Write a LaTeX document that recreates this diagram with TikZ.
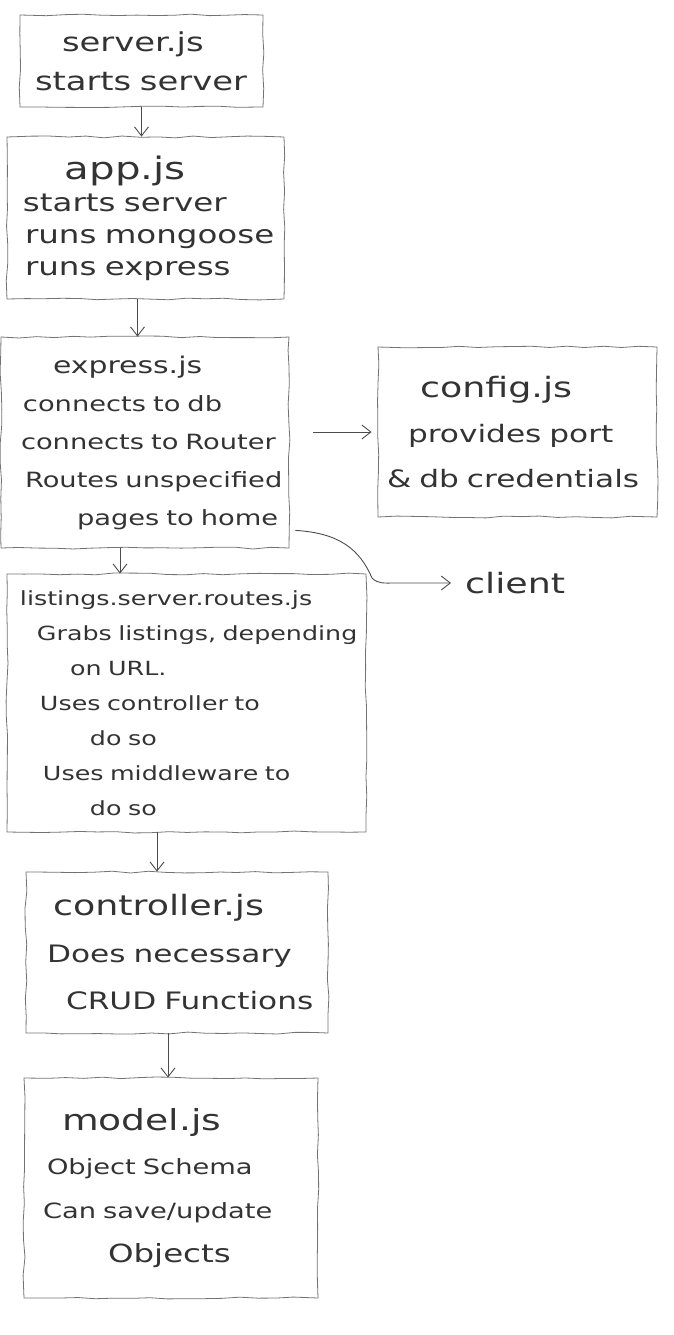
\documentclass[tikz,border=0pt]{standalone}
\usepackage{fontspec}
\setmainfont[FakeStretch=1.3]{DejaVu Sans}
\usetikzlibrary{arrows.meta, decorations.pathmorphing}

\begin{document}
\begin{tikzpicture}[x=1pt, y=-1pt,
    sketch/.style={draw=black!55, line width=0.8pt, text=black!80, inner sep=0pt, align=left,
      decorate, decoration={random steps, segment length=18pt, amplitude=1pt}},
    link/.style={->, >={Straight Barb[length=9pt, width=14pt]}, draw=black!70, line width=0.9pt}]
    \pgfmathsetseed{11}
    \useasboundingbox (0,0) rectangle (673,1335);

    % boxes, top to bottom
    \node[sketch, text width=243pt, minimum height=92pt, font=\fontsize{26}{39}\selectfont] (srv) at (141.5,61)
        {\hspace*{42pt}server.js\\\hspace*{15pt}starts server};
    \node[sketch, text width=277pt, minimum height=162pt, font=\fontsize{25}{32}\selectfont] (app) at (145.5,218)
        {\hspace*{58pt}{\fontsize{31}{32}\selectfont app.js}\\\hspace*{16pt}starts server\\\hspace*{18pt}runs mongoose\\\hspace*{18pt}runs express};
    \node[sketch, text width=288pt, minimum height=211pt, font=\fontsize{21}{38}\selectfont] (exp) at (145,442.5)
        {\hspace*{52pt}{\fontsize{23}{38}\selectfont express.js}\\\hspace*{22pt}connects to db\\\hspace*{20pt}connects to Router\\\hspace*{24pt}Routes unspecified\\\hspace*{76pt}pages to home};
    \node[sketch, text width=279pt, minimum height=170pt, font=\fontsize{24}{45}\selectfont] (cfg) at (517.5,432)
        {\hspace*{42pt}{\fontsize{28}{45}\selectfont config.js}\\\hspace*{30pt}provides port\\\hspace*{9pt}\& db credentials};
    \node[sketch, text width=359pt, minimum height=258pt, font=\fontsize{19.5}{35}\selectfont] (lst) at (186.5,703)
        {\hspace*{13pt}listings.server.routes.js\\\hspace*{30pt}Grabs listings, depending\\\hspace*{63pt}on URL.\\\hspace*{33pt}Uses controller to\\\hspace*{83pt}do so\\\hspace*{36pt}Uses middleware to\\\hspace*{83pt}do so};
    \node[sketch, text width=302pt, minimum height=161pt, font=\fontsize{24}{47}\selectfont] (ctl) at (177,952.5)
        {\hspace*{27pt}{\fontsize{28}{47}\selectfont controller.js}\\\hspace*{21pt}Does necessary\\\hspace*{40pt}CRUD Functions};
    \node[sketch, text width=294pt, minimum height=220pt, font=\fontsize{21}{44}\selectfont] (mdl) at (171,1188)
        {\hspace*{38pt}{\fontsize{29}{44}\selectfont model.js}\\\hspace*{23pt}Object Schema\\\hspace*{19pt}Can save/update\\\hspace*{84pt}{\fontsize{25}{44}\selectfont Objects}};
    \node[text=black!80, inner sep=0pt, anchor=west, font=\fontsize{28}{32}\selectfont] (cli) at (465,583) {client};

    % arrows
    \draw[link] (srv.south) -- (srv.south |- app.north);
    \draw[link] ([xshift=-8pt]app.south) -- ([xshift=-8pt]app.south |- exp.north);
    \draw[link] ([xshift=24pt]exp.east |- cfg.west) -- ([xshift=-6pt]cfg.west);
    \coordinate (bend) at (372,578);
    \draw[link] ([shift={(6pt,18pt)}]exp.south east) .. controls (340,533) and (360,550) .. (bend)
        .. controls (378,584) and (384,583) .. (395,583) -- ([xshift=-14pt]cli.west);
    \draw[link] ([xshift=-25pt]exp.south) -- ([xshift=-25pt]exp.south |- lst.north);
    \draw[link] ([xshift=-29.5pt]lst.south) -- ([xshift=-29.5pt]lst.south |- ctl.north);
    \draw[link] ([xshift=-9pt]ctl.south) -- ([xshift=-9pt]ctl.south |- mdl.north);
\end{tikzpicture}
\end{document}
